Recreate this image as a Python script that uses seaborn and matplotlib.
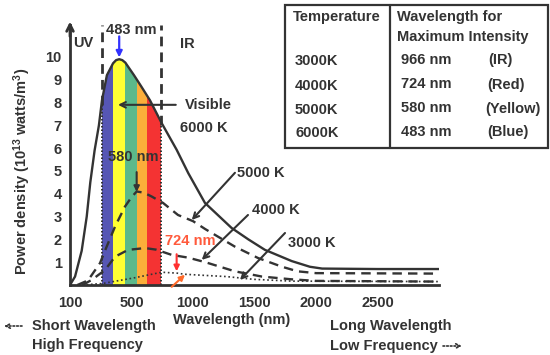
import numpy as np
import pandas as pd
import matplotlib
matplotlib.use("Agg")
import matplotlib.pyplot as plt
import seaborn as sns
from matplotlib.patches import Polygon, Rectangle
from matplotlib.lines import Line2D

# ---------------- data ----------------
nm_6000 = [0, 41, 95, 136, 165, 200, 235, 260, 300, 350, 375, 400, 425, 450, 520, 580, 650, 745, 867, 962,
           1097, 1314, 1450, 1585, 1802, 1950, 2050, 2500, 3000]
pw_6000 = [0, 0.37, 1.5, 3.0, 4.5, 5.9, 7.0, 8.1, 9.2, 9.72, 9.86, 9.9, 9.86, 9.75, 9.2, 8.7, 8.1, 7.1, 5.93, 4.9,
           3.6, 2.5, 2.0, 1.54, 1.05, 0.8, 0.72, 0.7, 0.7]

nm_5000 = [60, 146, 244, 298, 366, 447, 500, 542, 600, 664, 756, 878, 1000, 1100, 1341, 1530, 1724, 1850, 2000, 3000]
pw_5000 = [0, 0.2, 0.96, 1.68, 2.56, 3.44, 3.85, 4.1, 4.05, 3.88, 3.6, 3.07, 2.8, 2.45, 1.68, 1.18, 0.8, 0.6, 0.52, 0.5]

nm_4000 = [100, 176, 285, 366, 472, 610, 700, 827, 960, 1100, 1340, 1560, 1800, 2000, 3000]
pw_4000 = [0, 0.22, 0.66, 1.24, 1.54, 1.62, 1.55, 1.32, 1.2, 1.0, 0.6, 0.37, 0.25, 0.18, 0.15]

nm_3000 = [100, 270, 528, 745, 870, 935, 1100, 1270, 1490, 1800, 3000]
pw_3000 = [0, 0.07, 0.32, 0.56, 0.52, 0.47, 0.42, 0.37, 0.25, 0.17, 0.15]

band_edges = [262, 350, 447, 545, 626, 738]
band_colors = ["#5656b4", "#ffff33", "#5bb98b", "#fbae3a", "#f43333"]

xtick_pos = [0, 500, 1000, 1500, 2000, 2500]
xtick_labels = ["100", "500", "1000", "1500", "2000", "2500"]
ytick_pos = [1, 2, 3, 4, 5, 6, 7, 8, 9, 10]

table_temps = ["3000K", "4000K", "5000K", "6000K"]
table_waves = ["966 nm", "724 nm", "580 nm", "483 nm"]
table_names = ["(IR)", "(Red)", "(Yellow)", "(Blue)"]

# ---------------- style ----------------
sns.set_theme(style="white")
plt.rcParams["font.family"] = ["Liberation Sans", "DejaVu Sans"]
plt.rcParams["font.weight"] = "bold"
plt.rcParams["mathtext.fontset"] = "custom"
plt.rcParams["mathtext.rm"] = "Liberation Sans:bold"
plt.rcParams["mathtext.bf"] = "Liberation Sans:bold"
plt.rcParams["mathtext.default"] = "bf"

DARK = "#333333"
FS = 10.5
W, H = 550, 355

fig = plt.figure(figsize=(5.5, 3.55), dpi=100)
fig.patch.set_facecolor("white")
ax = fig.add_axes([70 / W, 1 - 285 / H, (439 - 70) / W, (285 - 25) / H])
ax.set_facecolor("white")
ax.set_xlim(0, 3000)
ax.set_ylim(0, 11.4)

# colour bands of the visible region, clipped under the 6000 K curve
clip = Polygon(np.column_stack([nm_6000 + [nm_6000[-1], nm_6000[0]],
                                pw_6000 + [0, 0]]),
               closed=True, facecolor="none", edgecolor="none", transform=ax.transData)
ax.add_patch(clip)
for a, b, c in zip(band_edges[:-1], band_edges[1:], band_colors):
    sp = ax.axvspan(a, b, color=c, lw=0, zorder=1)
    sp.set_clip_path(clip)

# curves
def frame(nm, pw, label):
    return pd.DataFrame({"nm": nm, "power": pw, "T": label})

sns.lineplot(data=frame(nm_6000, pw_6000, "6000 K"), x="nm", y="power", ax=ax,
             color=DARK, lw=1.7, zorder=4, legend=False, sort=True)
sns.lineplot(data=frame(nm_5000, pw_5000, "5000 K"), x="nm", y="power", ax=ax,
             color=DARK, lw=1.7, zorder=4, legend=False)
ax.lines[-1].set_dashes((4, 2.6))
sns.lineplot(data=frame(nm_4000, pw_4000, "4000 K"), x="nm", y="power", ax=ax,
             color=DARK, lw=1.7, zorder=4, legend=False)
ax.lines[-1].set_dashes((4, 2.6))
sns.lineplot(data=frame(nm_3000, pw_3000, "3000 K"), x="nm", y="power", ax=ax,
             color=DARK, lw=1.2, zorder=4, legend=False)
ax.lines[-1].set_dashes((1, 1.6))

# visible-region boundary lines: dashed above curve, dotted below
for xv, ytop in [(band_edges[0], 7.9), (band_edges[-1], 7.0)]:
    ax.vlines(xv, ytop, 11.4, colors=DARK, lw=2.0, linestyles=(0, (3.5, 2.2)), zorder=3, clip_on=False)
    ax.vlines(xv, 0, ytop, colors=DARK, lw=1.4, linestyles=(0, (0.8, 1.0)), zorder=3)

# axes styling
sns.despine(ax=ax)
for s in ["left", "bottom"]:
    ax.spines[s].set_color(DARK)
    ax.spines[s].set_linewidth(2)
    ax.spines[s].set_zorder(5)
ax.set_xticks(xtick_pos)
ax.set_xticklabels(xtick_labels)
ax.set_yticks(ytick_pos)
ax.set_yticklabels([str(v) for v in ytick_pos])
ax.tick_params(axis="x", direction="in", length=6, width=1.5, colors=DARK, labelsize=FS, pad=8)
ax.tick_params(axis="y", direction="inout", length=6, width=1.5, colors=DARK, labelsize=FS, pad=3)
for t in ax.get_xticklabels() + ax.get_yticklabels():
    t.set_fontweight("bold")
# arrow head on top of y axis
ax.annotate("", xy=(0, 11.55), xytext=(0, 10.9), xycoords="data",
            arrowprops=dict(arrowstyle="->", color=DARK, lw=2, shrinkA=0, shrinkB=0,
                            mutation_scale=12), annotation_clip=False)

ax.set_xlabel("Wavelength (nm)", fontsize=FS, fontweight="bold", color=DARK, va="center")
ax.xaxis.set_label_coords((232 - 70) / 369, -(320 - 285) / 260)
ax.set_ylabel(r"Power density (10$^{13}$ watts/m$^{3}$)", fontsize=FS, fontweight="bold",
              color=DARK, va="center", ha="center")
ax.yaxis.set_label_coords((22 - 70) / 369, (285 - 171) / 260)

# ---------------- annotations ----------------
def txt(x, y, s, **kw):
    kw.setdefault("color", DARK)
    ax.text(x, y, s, fontsize=FS, fontweight="bold", clip_on=False, **kw)

txt(24, 10.6, "UV", ha="left", va="center")
txt(894, 10.55, "IR", ha="left", va="center")
txt(496, 11.2, "483 nm", ha="center", va="center")
ax.annotate("", xy=(400, 9.98), xytext=(400, 10.9),
            arrowprops=dict(arrowstyle="-|>", color="#3232ff", lw=1.6, shrinkA=0, shrinkB=0,
                            mutation_scale=9), annotation_clip=False)

txt(935, 7.9, "Visible", ha="left", va="center")
ax.annotate("", xy=(390, 7.9), xytext=(860, 7.9),
            arrowprops=dict(arrowstyle="->", color=DARK, lw=1.5, shrinkA=0, shrinkB=0,
                            mutation_scale=10))
txt(894, 6.9, "6000 K", ha="left", va="center")

txt(512, 5.6, "580 nm", ha="center", va="center", zorder=6)
ax.annotate("", xy=(542, 4.08), xytext=(542, 4.95),
            arrowprops=dict(arrowstyle="-|>", color=DARK, lw=1.5, shrinkA=0, shrinkB=0,
                            mutation_scale=8), zorder=6)

txt(1358, 4.92, "5000 K", ha="left", va="center")
ax.annotate("", xy=(990, 2.85), xytext=(1341, 4.92),
            arrowprops=dict(arrowstyle="->", color=DARK, lw=1.5, shrinkA=0, shrinkB=0,
                            mutation_scale=10), zorder=6)
txt(1480, 3.29, "4000 K", ha="left", va="center")
ax.annotate("", xy=(1071, 1.1), xytext=(1447, 3.07),
            arrowprops=dict(arrowstyle="->", color=DARK, lw=1.5, shrinkA=0, shrinkB=0,
                            mutation_scale=10), zorder=6)
txt(1772, 1.84, "3000 K", ha="left", va="center")
ax.annotate("", xy=(1382, 0.22), xytext=(1748, 2.28),
            arrowprops=dict(arrowstyle="->", color=DARK, lw=1.5, shrinkA=0, shrinkB=0,
                            mutation_scale=10), zorder=6)

txt(772, 1.95, "724 nm", ha="left", va="center", color="#ff5a3c")
ax.annotate("", xy=(867, 0.6), xytext=(867, 1.35),
            arrowprops=dict(arrowstyle="-|>", color="#ff3030", lw=1.5, shrinkA=0, shrinkB=0,
                            mutation_scale=8), zorder=6)
ax.annotate("", xy=(935, 0.45), xytext=(827, -0.08),
            arrowprops=dict(arrowstyle="-|>", color="#ff6a2a", lw=1.5, shrinkA=0, shrinkB=0,
                            mutation_scale=8), zorder=6, annotation_clip=False)

# ---------------- bottom texts ----------------
def ftxt(x, y, s, **kw):
    fig.text(x / W, 1 - y / H, s, fontsize=FS, fontweight="bold", color=DARK, va="center", **kw)

ftxt(32, 326, "Short Wavelength", ha="left")
ftxt(32, 345, "High Frequency", ha="left")
ftxt(330, 326, "Long Wavelength", ha="left")
ftxt(330, 346, "Low Frequency", ha="left")
ax.annotate("", xy=(4, H - 326), xytext=(22, H - 326), xycoords="figure pixels",
            textcoords="figure pixels",
            arrowprops=dict(arrowstyle="->", color=DARK, lw=1.2, ls=(0, (1, 1.2)),
                            shrinkA=0, shrinkB=0, mutation_scale=8), annotation_clip=False)
ax.annotate("", xy=(462, H - 346), xytext=(443, H - 346), xycoords="figure pixels",
            textcoords="figure pixels",
            arrowprops=dict(arrowstyle="->", color=DARK, lw=1.2, ls=(0, (1, 1.2)),
                            shrinkA=0, shrinkB=0, mutation_scale=8), annotation_clip=False)

# ---------------- table ----------------
def P(x, y):
    return (x / W, 1 - y / H)

fig.add_artist(Rectangle(P(285, 148), (548 - 285) / W, (148 - 5) / H, transform=fig.transFigure,
                         facecolor="white", edgecolor=DARK, lw=1.6, zorder=2))
fig.add_artist(Line2D([390 / W, 390 / W], [1 - 5 / H, 1 - 148 / H], transform=fig.transFigure,
                      color=DARK, lw=1.6, zorder=3))
ftxt(293, 17, "Temperature", ha="left", zorder=4)
ftxt(397, 17, "Wavelength for", ha="left", zorder=4)
ftxt(397, 37, "Maximum Intensity", ha="left", zorder=4)
row_y = [61, 85.5, 109.5, 133]
name_x = [488, 487, 485, 487]
for yy, t, wv, nmn, nx in zip(row_y, table_temps, table_waves, table_names, name_x):
    ftxt(295, yy, t, ha="left", zorder=4)
    ftxt(401, yy - 1, wv, ha="left", zorder=4)
    ftxt(nx, yy - 1, nmn, ha="left", zorder=4)

fig.savefig("out.png", dpi=100, facecolor="white")
